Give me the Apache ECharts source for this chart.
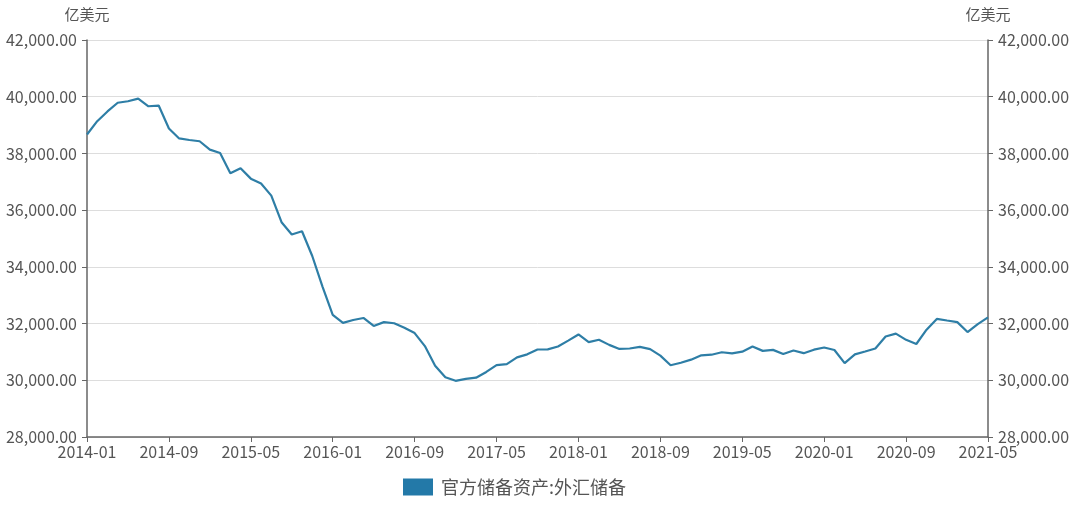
<!DOCTYPE html>
<html><head><meta charset="utf-8">
<script src="https://cdn.jsdelivr.net/npm/echarts@6/dist/echarts.min.js"></script>
<style>html,body{margin:0;padding:0;background:#fff}#c{width:1080px;height:505px}</style>
</head><body><div id="c"></div>
<script>
const categories = [];
for (let y = 2014; y <= 2021; y++) {
  for (let m = 1; m <= 12; m++) {
    if (y === 2021 && m > 5) break;
    categories.push(y + '-' + (m < 10 ? '0' + m : m));
  }
}
const fxReserves = [
  38666, 39137, 39481, 39788, 39839, 39932, 39663, 39688, 38877, 38529, 38473, 38430,
  38134, 38015, 37300, 37481, 37111, 36938, 36513, 35574, 35141, 35255, 34383, 33304,
  32309, 32023, 32126, 32197, 31917, 32051, 32011, 31851, 31664, 31206, 30516, 30105,
  29982, 30051, 30091, 30295, 30536, 30568, 30807, 30915, 31085, 31092, 31193, 31399,
  31615, 31345, 31428, 31249, 31106, 31121, 31179, 31097, 30870, 30531, 30617, 30727,
  30879, 30902, 30988, 30950, 31010, 31192, 31037, 31072, 30924, 31052, 30956, 31079,
  31155, 31067, 30606, 30915, 31017, 31123, 31544, 31646, 31426, 31280, 31785, 32165,
  32107, 32050, 31701, 31982, 32218
];
const seriesName = '官方储备资产:外汇储备';
const unitName = '亿美元';

const fmt = v => v.toLocaleString('en-US', {minimumFractionDigits: 2, maximumFractionDigits: 2});
const font = '"Noto Sans CJK SC", "Noto Sans", sans-serif';
const yAxisCommon = {
  type: 'value', min: 28000, max: 42000, interval: 2000,
  name: unitName, nameLocation: 'end', nameGap: 18,
  nameTextStyle: {color: '#555', fontSize: 15, fontFamily: font},
  axisLine: {show: true, lineStyle: {color: '#666', width: 1.5}},
  axisTick: {show: true, length: 5, lineStyle: {color: '#666'}},
  axisLabel: {color: '#555', fontSize: 16, fontFamily: font, formatter: fmt, margin: 10},
  splitLine: {lineStyle: {color: '#ddd'}}
};
const chart = echarts.init(document.getElementById('c'));
chart.setOption({
  animation: false,
  grid: {left: 87, right: 92, top: 40, bottom: 68},
  legend: {
    bottom: 4, left: 398, itemWidth: 30, itemHeight: 17, itemGap: 10,
    textStyle: {color: '#555', fontSize: 18, fontFamily: font, padding: [0, 0, 0, 3]},
    data: [{name: seriesName, icon: 'rect'}]
  },
  xAxis: {
    type: 'category', data: categories, boundaryGap: false,
    axisLine: {lineStyle: {color: '#666', width: 1.5}},
    axisTick: {alignWithLabel: true, interval: 7, length: 5, lineStyle: {color: '#666'}},
    axisLabel: {interval: 7, color: '#555', fontSize: 16, fontFamily: font, margin: 7},
    splitLine: {show: false}
  },
  yAxis: [
    Object.assign({}, yAxisCommon, {position: 'left'}),
    Object.assign({}, yAxisCommon, {position: 'right', splitLine: {show: false}})
  ],
  series: [{
    name: seriesName, type: 'line', data: fxReserves, yAxisIndex: 0,
    showSymbol: false, symbol: 'none',
    itemStyle: {color: '#2379a8'},
    lineStyle: {color: '#2e7ea6', width: 2.2}
  }]
});
</script></body></html>
